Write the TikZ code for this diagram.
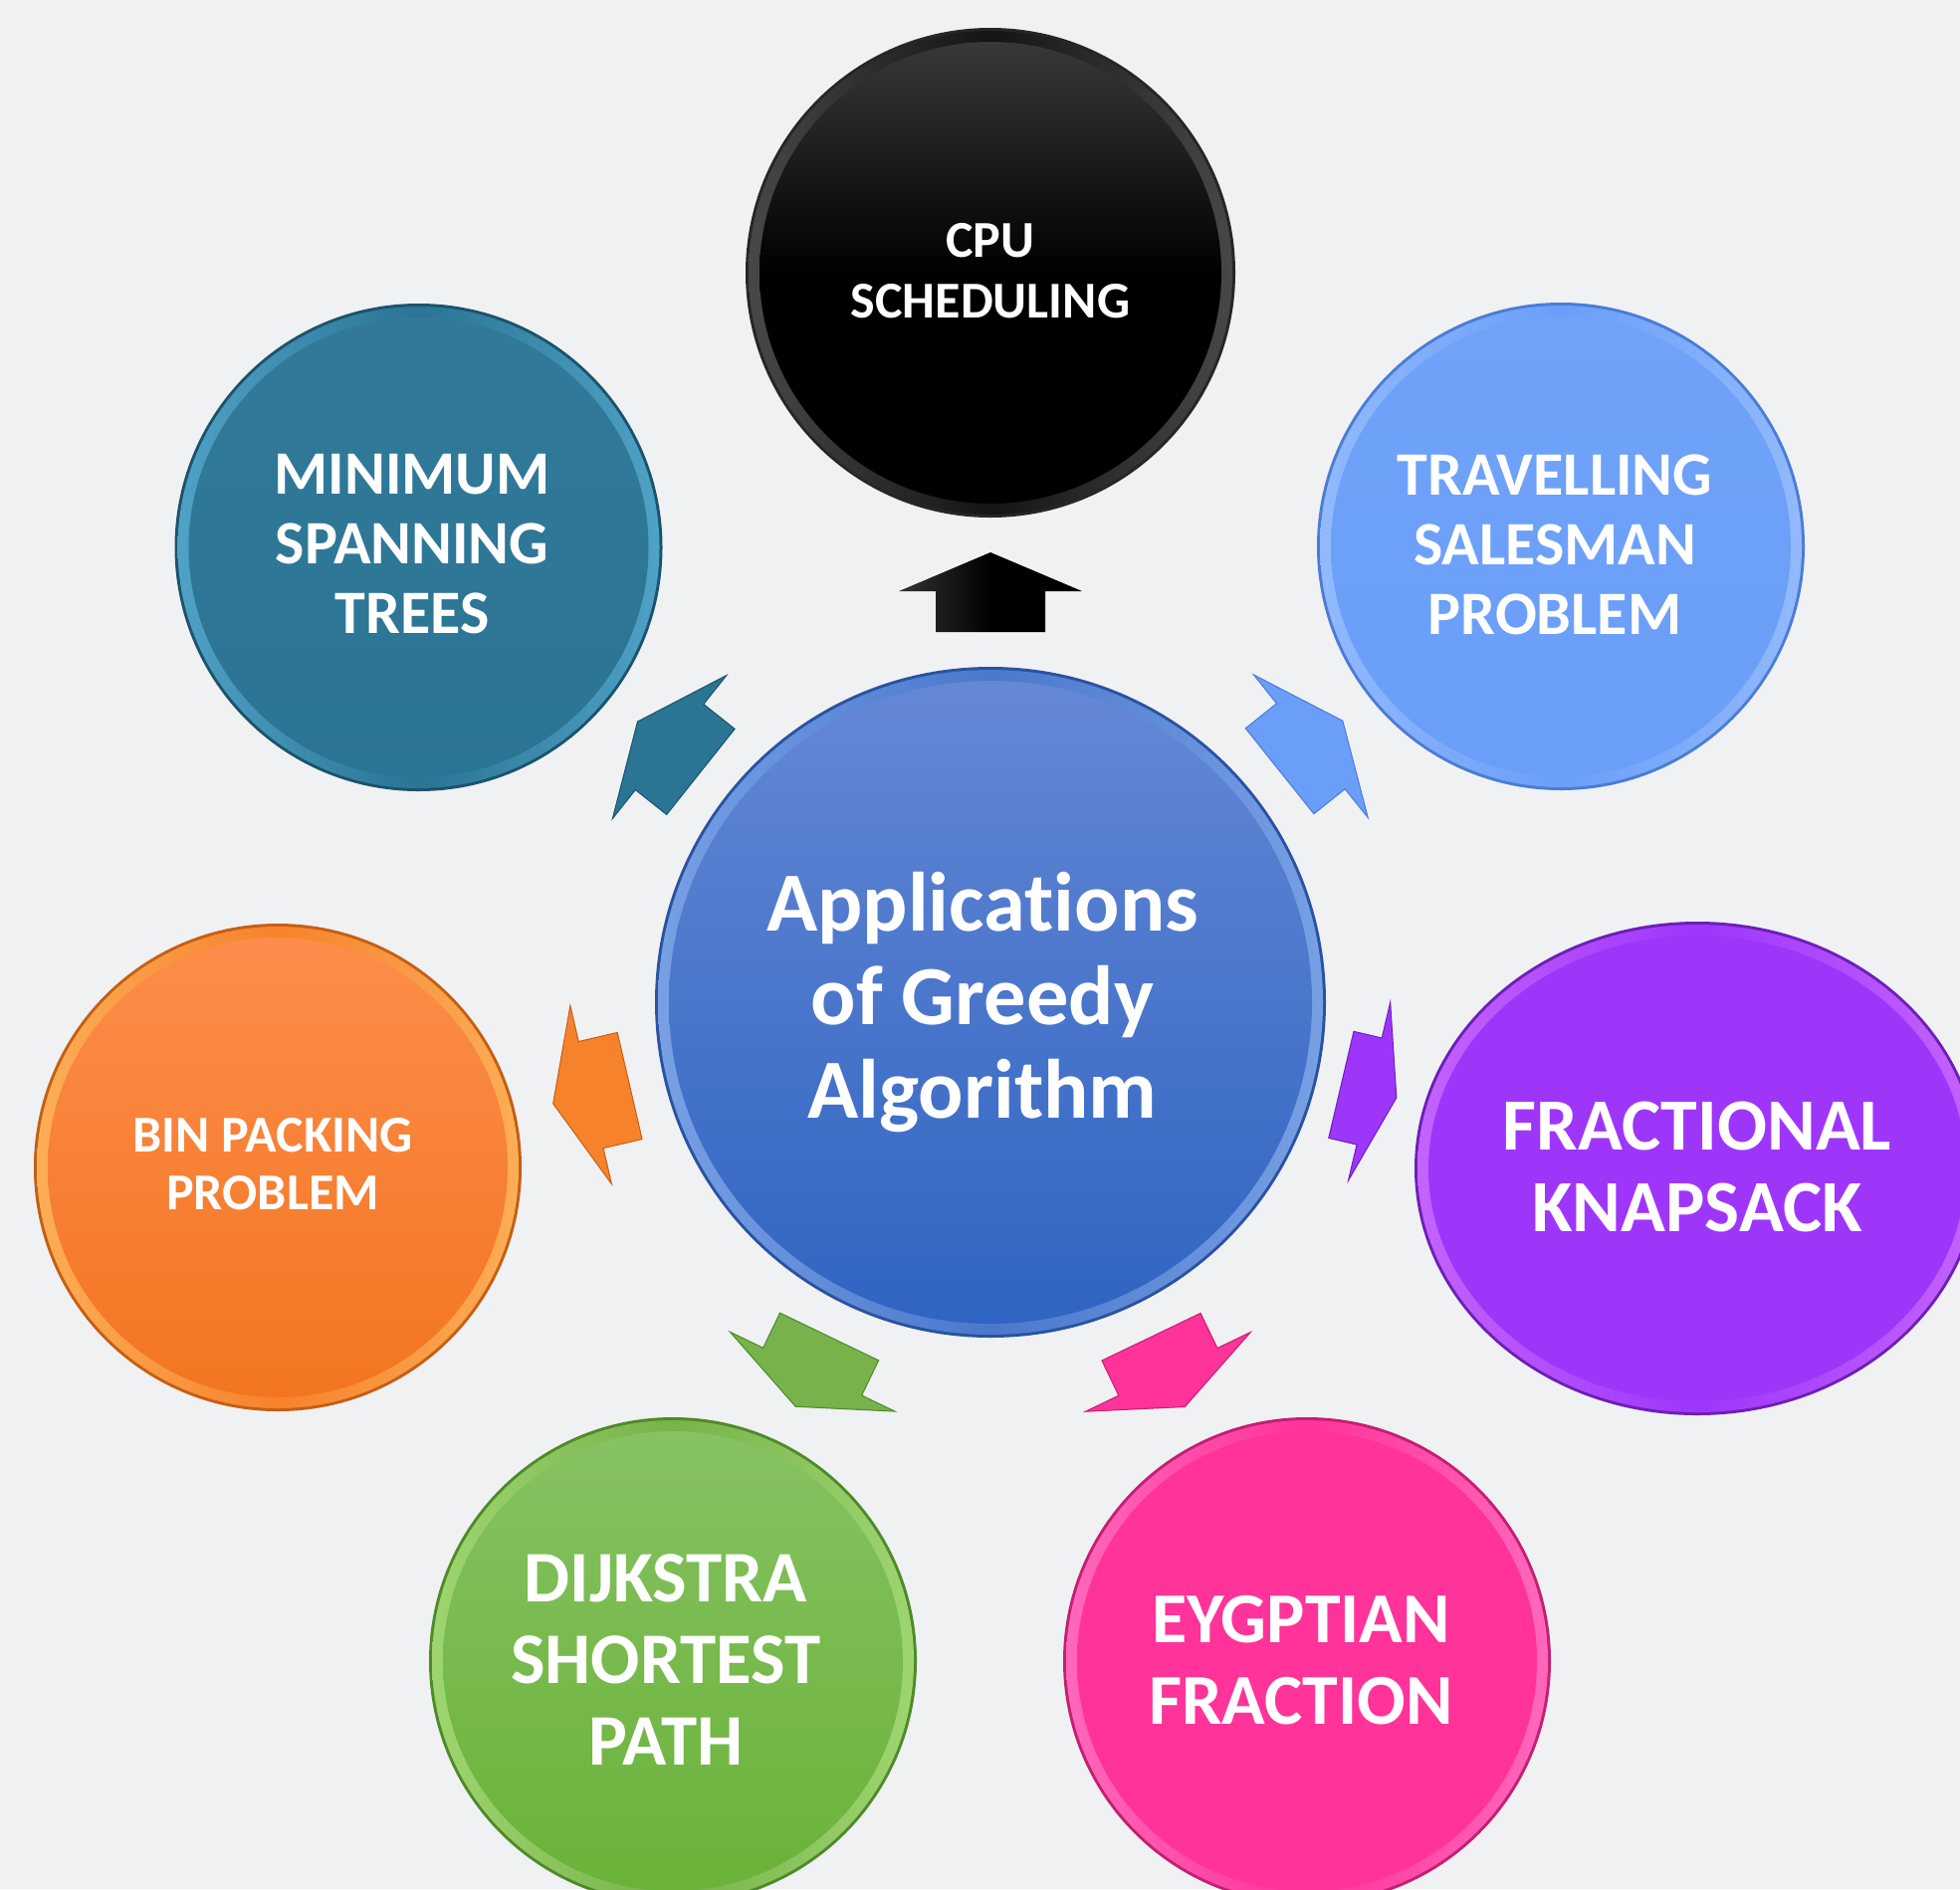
\documentclass[tikz,border=0pt]{standalone}
\usepackage{fontspec}
\setmainfont{Carlito}[Ligatures=NoCommon]
\usetikzlibrary{calc,shapes.geometric}
\definecolor{bg}{HTML}{F0F1F3}
\definecolor{cTeal}{HTML}{2A7494}
\definecolor{cTealE}{HTML}{1C536C}
\definecolor{cTealH}{HTML}{6CC8EE}
\definecolor{cBlue}{HTML}{6A9EF8}
\definecolor{cBlueE}{HTML}{4B7CD6}
\definecolor{cBlueH}{HTML}{B3D0FF}
\definecolor{cOrange}{HTML}{F7822C}
\definecolor{cOrangeT}{HTML}{FC8D4A}
\definecolor{cOrangeB}{HTML}{F37521}
\definecolor{cOrangeE}{HTML}{C65E14}
\definecolor{cOrangeH}{HTML}{FFD27A}
\definecolor{cPurple}{HTML}{9E36FA}
\definecolor{cPurpleE}{HTML}{6C1FB8}
\definecolor{cPurpleH}{HTML}{E488FF}
\definecolor{cGreen}{HTML}{77B24A}
\definecolor{cGreenT}{HTML}{86C262}
\definecolor{cGreenB}{HTML}{6AB239}
\definecolor{cGreenE}{HTML}{4E8A2A}
\definecolor{cGreenH}{HTML}{BFF28F}
\definecolor{cPink}{HTML}{FF3399}
\definecolor{cPinkE}{HTML}{C41F72}
\definecolor{cPinkH}{HTML}{FF93D6}
\definecolor{cCT}{HTML}{6488D5}
\definecolor{cCB}{HTML}{3064C2}
\definecolor{cCE}{HTML}{2A52A0}
\definecolor{cCH}{HTML}{9CC0F8}
\definecolor{cCM}{HTML}{4A78CC}
\newcommand\fs[2]{\fontsize{#1}{#2}\selectfont}
% name, x, y, radius, edge, rim highlight, rim middle, face top, face bottom
\newcommand\bubble[9]{%
  \node[circle, inner sep=0pt, minimum size={2*#4}, fill=#5] (#1) at (#2,#3) {};
  \shade[left color=#6!55!#7, right color=#6!55!#7, middle color=#7] (#1.center) circle ({#4-3});
  \shade[top color=#8, bottom color=#9] (#1.center) circle ({#4-14});
}
% target node, base radius, head radius, tip radius, style
\newcommand\garrow[5]{%
  \path[#5] let \p1=($(#1.center)-(C.center)$), \n1={atan2(\y1,\x1)} in
    ($(C.center)+(\n1:#2pt)+(\n1+90:55pt)$) --
    ($(C.center)+(\n1:#3pt)+(\n1+90:55pt)$) --
    ($(C.center)+(\n1:#3pt)+(\n1+90:92pt)$) --
    ($(C.center)+(\n1:#4pt)$) --
    ($(C.center)+(\n1:#3pt)+(\n1-90:92pt)$) --
    ($(C.center)+(\n1:#3pt)+(\n1-90:55pt)$) --
    ($(C.center)+(\n1:#2pt)+(\n1-90:55pt)$) -- cycle;
}
\begin{document}
\begin{tikzpicture}[x=1pt,y=-1pt,
  txt/.style={text=white, align=center, inner sep=0pt}]
\clip (0,0) rectangle (1969,1898);
\fill[bg] (0,0) rectangle (1969,1898);

% centre bubble
\bubble{C}{995}{1007}{337}{cCE}{cCH}{cCM}{cCT}{cCB}
% satellites
\node[circle, inner sep=0pt, minimum size=492, fill=black!85] (cpu) at (995,274) {};
\shade[left color=black!72, right color=black!72, middle color=black!92] (cpu.center) circle (243);
\shade[top color=black!78, bottom color=black, middle color=black] (cpu.center) circle (232);
\bubble{mst}{420.5}{550}{245}{cTealE}{cTealH}{cTeal}{cTeal!96!white}{cTeal}
\bubble{tsp}{1568}{549}{245}{cBlueE}{cBlueH}{cBlue}{cBlue!96!white}{cBlue}
\bubble{bin}{279}{1173}{245}{cOrangeE}{cOrangeH}{cOrange}{cOrangeT}{cOrangeB}
\node[ellipse, inner sep=0pt, minimum width=568, minimum height=496, fill=cPurpleE] (fk) at (1705,1174) {};
\shade[left color=cPurpleH!55!cPurple, right color=cPurpleH!55!cPurple, middle color=cPurple] (fk.center) ellipse [x radius=281, y radius=245];
\fill[cPurple] (fk.center) ellipse [x radius=270, y radius=234];
\bubble{dj}{676}{1669}{245}{cGreenE}{cGreenH}{cGreen}{cGreenT}{cGreenB}
\bubble{eg}{1313}{1669}{245}{cPinkE}{cPinkH}{cPink}{cPink}{cPink}

% block arrows
\garrow{cpu}{372}{413}{452}{left color=black!80, right color=black, middle color=black}
\garrow{mst}{372}{412}{453}{fill=cTeal, draw=cTealE, line width=1}
\garrow{tsp}{372}{412}{453}{fill=cBlue, draw=cBlueE, line width=1}
\garrow{bin}{372}{412}{451}{fill=cOrange, draw=cOrangeE, line width=1}
\garrow{fk}{362}{391}{419}{fill=cPurple, draw=cPurpleE, line width=1}
\garrow{dj}{373}{412}{451}{fill=cGreen, draw=cGreenE, line width=1}
\garrow{eg}{373}{412}{451}{fill=cPink, draw=cPinkE, line width=1}

% texts
\node[txt, font=\bfseries\fs{52}{61}] (cpu-t) at (995,272) {CPU\\SCHEDULING};
\node[txt, font=\bfseries\fs{62}{70}] (mst-t) at (414,547) {MINIMUM\\SPANNING\\TREES};
\node[txt, font=\bfseries\fs{62}{70}] (tsp-t) at (1562,547) {TRAVELLING\\SALESMAN\\PROBLEM};
\node[txt, font=\bfseries\fs{52}{58}] (bin-t) at (274,1170) {BIN PACKING\\PROBLEM};
\node[txt, font=\bfseries\fs{74}{82}] (fk-t) at (1705,1172) {FRACTIONAL\\KNAPSACK};
\node[txt, font=\bfseries\fs{73}{82}] (dj-t) at (669,1668) {DIJKSTRA\\SHORTEST\\PATH};
\node[txt, font=\bfseries\fs{72}{82}] (eg-t) at (1307,1668) {EYGPTIAN\\FRACTION};
\node[txt, font=\bfseries\fs{84.5}{94}] (c-t) at (987,1007) {Applications\\of Greedy\\Algorithm};
\end{tikzpicture}
\end{document}
